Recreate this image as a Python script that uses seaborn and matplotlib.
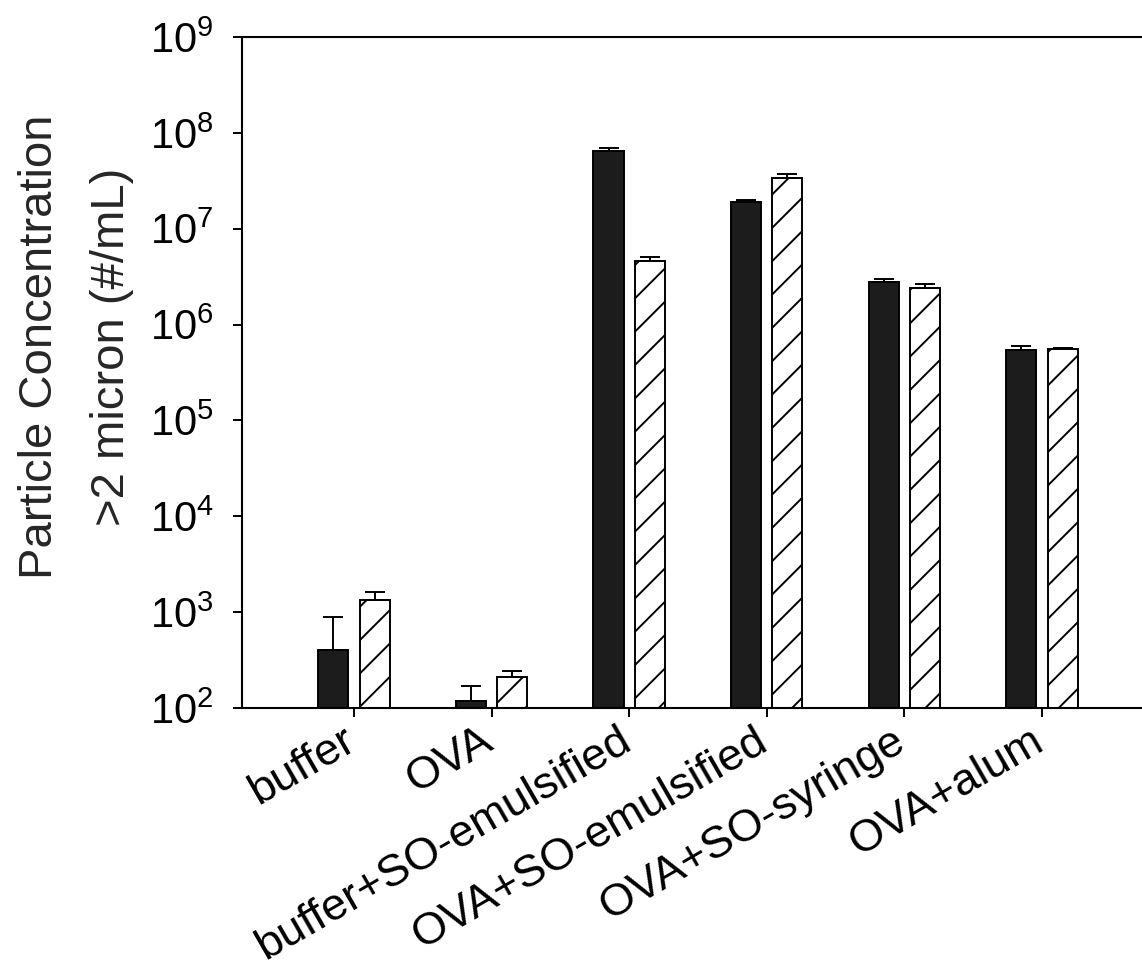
import numpy as np
import pandas as pd
import matplotlib
matplotlib.use("Agg")
import matplotlib.pyplot as plt
import seaborn as sns
from matplotlib.ticker import NullLocator
from matplotlib.transforms import ScaledTranslation

# ---- data ----
categories = ["buffer", "OVA", "buffer+SO-emulsified", "OVA+SO-emulsified",
              "OVA+SO-syringe", "OVA+alum"]
series_names = ["solid", "hatched"]
solid_values = [405, 119, 6.5e7, 1.91e7, 2.76e6, 5.43e5]
solid_err = [490, 52, 4.0e6, 7.0e5, 2.1e5, 6.0e4]
hatched_values = [1346, 212, 4.64e6, 3.36e7, 2.43e6, 5.56e5]
hatched_err = [287, 33, 4.0e5, 3.4e6, 2.2e5, 1.4e4]
y_ticks = [1e2, 1e3, 1e4, 1e5, 1e6, 1e7, 1e8, 1e9]
ylabel_line1 = "Particle Concentration"
ylabel_line2 = ">2 micron (#/mL)"

sns.set_style("ticks")
plt.rcParams["font.family"] = ["Liberation Sans", "DejaVu Sans"]
plt.rcParams["mathtext.default"] = "regular"
plt.rcParams["hatch.linewidth"] = 0.7
plt.rcParams["hatch.color"] = "black"

df = pd.DataFrame({
    "category": categories * 2,
    "series": [series_names[0]] * len(categories) + [series_names[1]] * len(categories),
    "value": solid_values + hatched_values,
})

fig = plt.figure(figsize=(5.71, 4.865), dpi=200)
ax = fig.add_axes([0.2119, 0.2724, 0.7881, 0.6896])

sns.barplot(data=df, x="category", y="value", hue="series", order=categories,
            hue_order=series_names, palette={series_names[0]: "#1c1c1c", series_names[1]: "white"},
            width=0.6, gap=0.27, errorbar=None, legend=False, ax=ax,
            edgecolor="black", linewidth=0.7, saturation=1)

ax.set_yscale("log")

errs = [solid_err, hatched_err]
bar_containers = list(ax.containers)
for i, cont in enumerate(bar_containers):
    xs, ys = [], []
    for p in cont.patches:
        if i == 1:
            p.set_hatch("//")
            p.set_facecolor("white")
        p.set_edgecolor("black")
        xs.append(p.get_x() + p.get_width() / 2)
        ys.append(p.get_height())
    ax.errorbar(xs, ys, yerr=[np.zeros(len(xs)), errs[i]], fmt="none",
                ecolor="black", elinewidth=0.7, capsize=3.6, capthick=0.7, zorder=1)

ax.set_ylim(1e2, 1e9)
ax.set_xlim(-0.814, 5.727)
ax.set_yticks(y_ticks)
ax.yaxis.set_minor_locator(NullLocator())

for side in ["left", "bottom", "top"]:
    ax.spines[side].set_linewidth(0.75)
    ax.spines[side].set_color("black")
ax.spines["right"].set_visible(False)

ax.tick_params(axis="y", direction="out", length=3.2, width=0.7, labelsize=15, pad=7, colors="black")
ax.tick_params(axis="x", direction="out", length=3.2, width=0.7, labelsize=16.3, pad=1, colors="black")
ax.set_xticks(range(len(categories)))
ax.set_xticklabels(categories, rotation=30, ha="right", rotation_mode="anchor")
off = ScaledTranslation(-12 / 200, 0, fig.dpi_scale_trans)
for lab in ax.get_xticklabels():
    lab.set_transform(lab.get_transform() + off)

ax.set_xlabel("")
ax.set_ylabel(ylabel_line1 + "\n" + ylabel_line2, fontsize=17, linespacing=1.82)
ax.yaxis.set_label_coords(-0.184, 0.538)
ax.yaxis.label.set_va("center")

fig.savefig("out.png", dpi=200, facecolor="white")
